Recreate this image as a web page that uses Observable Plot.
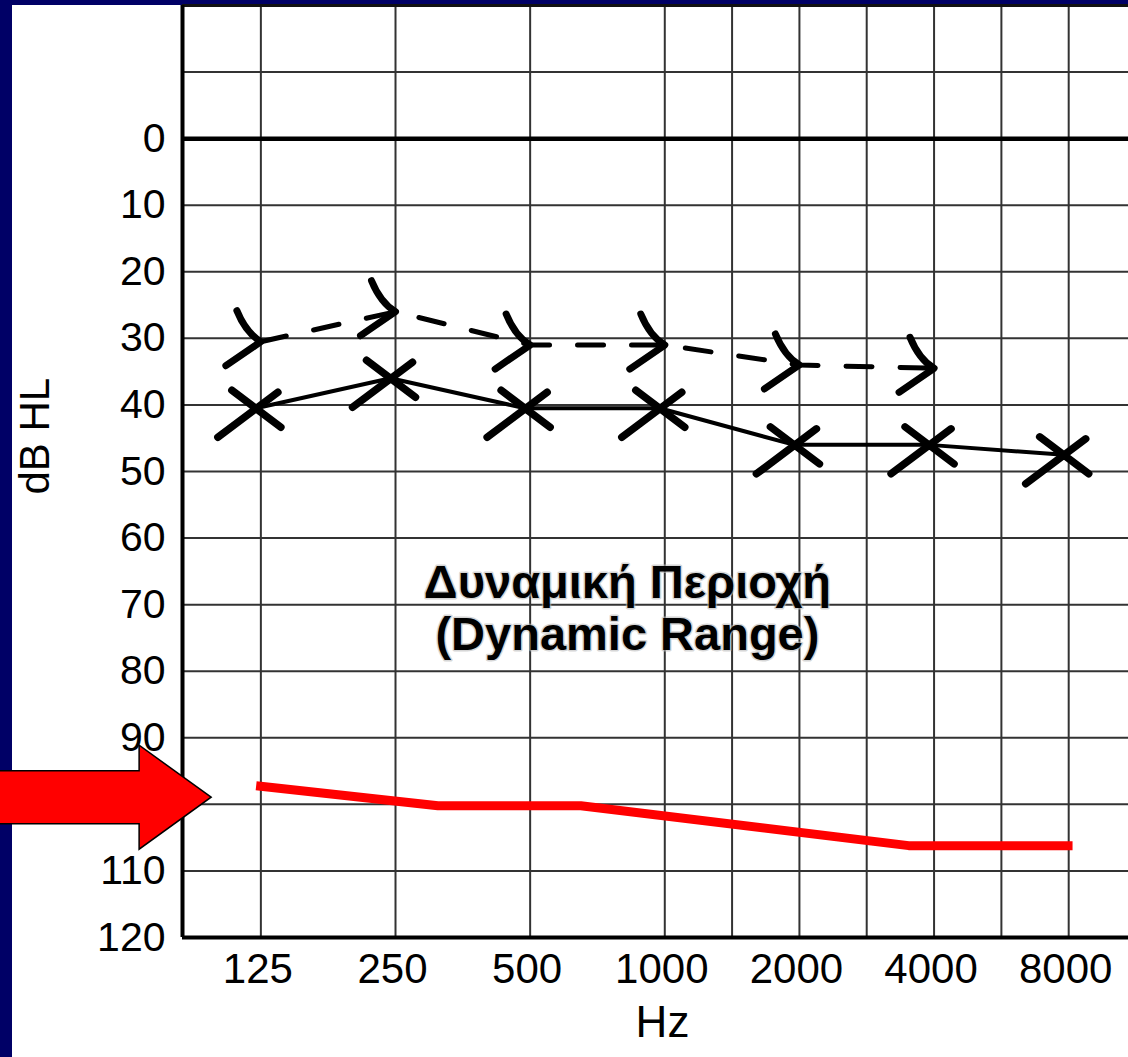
<!DOCTYPE html>
<html>
<head>
<meta charset="utf-8">
<script src="https://cdn.jsdelivr.net/npm/d3@7"></script>
<script src="https://cdn.jsdelivr.net/npm/@observablehq/plot@0.6"></script>
<style>
html, body { margin: 0; padding: 0; }
body { width: 1128px; height: 1057px; background: #000066; position: relative; overflow: hidden; }
#panel { position: absolute; left: 12px; top: 5px; right: 0; bottom: 0; background: #ffffff; }
#chart { position: absolute; left: 0; top: 0; }
</style>
</head>
<body>
<div id="panel"></div>
<div id="chart"></div>
<script>
// ---- data ----
const frequencies = [125, 250, 500, 1000, 2000, 4000, 8000];          // labelled octave lines (Hz)
const halfOctaves = [1414, 2828, 5657];                                // unlabelled grid lines (Hz)
const xDomain = [83.5, 10884];                                         // Hz at the frame edges
const dbTicks = [0, 10, 20, 30, 40, 50, 60, 70, 80, 90, 100, 110, 120];
const dbGrid = [-20, -10, 10, 20, 30, 40, 50, 60, 70, 80, 90, 100, 110];
const yDomain = [-20, 120];

// air conduction thresholds (X, solid line)
const airHz = [125, 250, 500, 1000, 2000, 4000, 8000];
const airDb = [40.5, 36, 40.5, 40.5, 46, 46, 47.5];

// bone conduction thresholds (>, dashed line)
const boneHz = [125, 250, 500, 1000, 2000, 4000];
const boneDb = [30.5, 26, 31, 31, 34, 34.5];

// uncomfortable loudness level (red line)
const uclHz = [122, 311, 649, 3509, 8160];
const uclDb = [97.2, 100.2, 100.2, 106.2, 106.2];

// red block arrow tip
const arrowHz = [97];
const arrowDb = [99];

// annotation
const annotationLines = ["Δυναμική Περιοχή", "(Dynamic Range)"];
const annotationHz = [825];
const annotationDb = [70.4];

// ---- build ----
const air = airHz.map((hz, i) => ({hz, db: airDb[i]}));
const bone = boneHz.map((hz, i) => ({hz, db: boneDb[i]}));
const ucl = uclHz.map((hz, i) => ({hz, db: uclDb[i]}));
const annotation = [{hz: annotationHz[0], db: annotationDb[0], label: annotationLines.join("\n")}];

const handX = {
  draw(ctx) {
    ctx.moveTo(-38, 29); ctx.lineTo(22, -16);
    ctx.moveTo(-24, -18); ctx.lineTo(25, 19);
  }
};
const handGt = {
  draw(ctx) {
    ctx.moveTo(-24, -31);
    ctx.quadraticCurveTo(-15, -9, 0, 0);
    ctx.lineTo(-35, 24);
  }
};

function blockArrow(index, scales) {
  const tx = scales.x(arrowHz[0]);
  const ty = scales.y(arrowDb[0]);
  const head = 72, half = 52, shaft = 26.5;
  const d = `M${tx},${ty}L${tx - head},${ty - half}L${tx - head},${ty - shaft}L-4,${ty - shaft}` +
            `L-4,${ty + shaft}L${tx - head},${ty + shaft}L${tx - head},${ty + half}Z`;
  const path = document.createElementNS("http://www.w3.org/2000/svg", "path");
  path.setAttribute("d", d);
  path.setAttribute("fill", "#ff0000");
  path.setAttribute("stroke", "#000000");
  path.setAttribute("stroke-width", "1.5");
  path.setAttribute("stroke-linejoin", "miter");
  return path;
}

const font = "'Liberation Sans', Arial, Helvetica, sans-serif";

const chart = Plot.plot({
  width: 1128,
  height: 1057,
  marginLeft: 182,
  marginRight: 0,
  marginTop: 5,
  marginBottom: 120,
  style: {background: "transparent", color: "black", fontFamily: font},
  x: {type: "log", domain: xDomain, axis: null},
  y: {domain: yDomain, reverse: true},
  marks: [
    // grid
    Plot.ruleX(frequencies.concat(halfOctaves), {stroke: "#333", strokeWidth: 2}),
    Plot.ruleY(dbGrid, {stroke: "#333", strokeWidth: 2}),
    Plot.ruleY([yDomain[0]], {stroke: "#111", strokeWidth: 3}),
    Plot.ruleY([0], {stroke: "#000", strokeWidth: 4.5}),
    Plot.ruleY([yDomain[1]], {stroke: "#000", strokeWidth: 4}),
    Plot.ruleX([xDomain[0]], {stroke: "#000", strokeWidth: 4}),
    // axes
    Plot.axisY({ticks: dbTicks, tickSize: 0, tickPadding: 17, fontSize: 41, label: null}),
    Plot.text(frequencies, {x: d => d, text: d => `${d}`, frameAnchor: "bottom", lineAnchor: "top",
      dy: 16, dx: -3, fontSize: 42}),
    Plot.text(["Hz"], {text: d => d, frameAnchor: "bottom", dy: 99, dx: 7, fontSize: 44}),
    Plot.text(["dB HL"], {text: d => d, frameAnchor: "left", dx: -147, dy: 23, rotate: -90, fontSize: 42}),
    // red line
    Plot.line(ucl, {x: "hz", y: "db", stroke: "#ff0000", strokeWidth: 9, strokeLinejoin: "miter", strokeLinecap: "butt"}),
    // bone conduction
    Plot.line(bone, {x: "hz", y: "db", stroke: "#000", strokeWidth: 5, strokeDasharray: "26,28"}),
    Plot.dot(bone, {x: "hz", y: "db", symbol: handGt, fill: "none", stroke: "#000", strokeWidth: 7, strokeLinecap: "round", strokeLinejoin: "round"}),
    // air conduction
    Plot.line(air, {x: "hz", y: "db", stroke: "#000", strokeWidth: 4, dx: -5}),
    Plot.dot(air, {x: "hz", y: "db", symbol: handX, fill: "none", stroke: "#000", strokeWidth: 7.5, strokeLinecap: "round", dx: -5}),
    // annotation
    Plot.text(annotation, {x: "hz", y: "db", text: "label", fontSize: 47, fontWeight: "bold", lineHeight: 1.1,
      stroke: "#bbbbbb", strokeWidth: 3, strokeOpacity: 0.6, fill: "#000", paintOrder: "stroke"}),
    // arrow
    blockArrow
  ]
});

document.getElementById("chart").appendChild(chart);
</script>
</body>
</html>
